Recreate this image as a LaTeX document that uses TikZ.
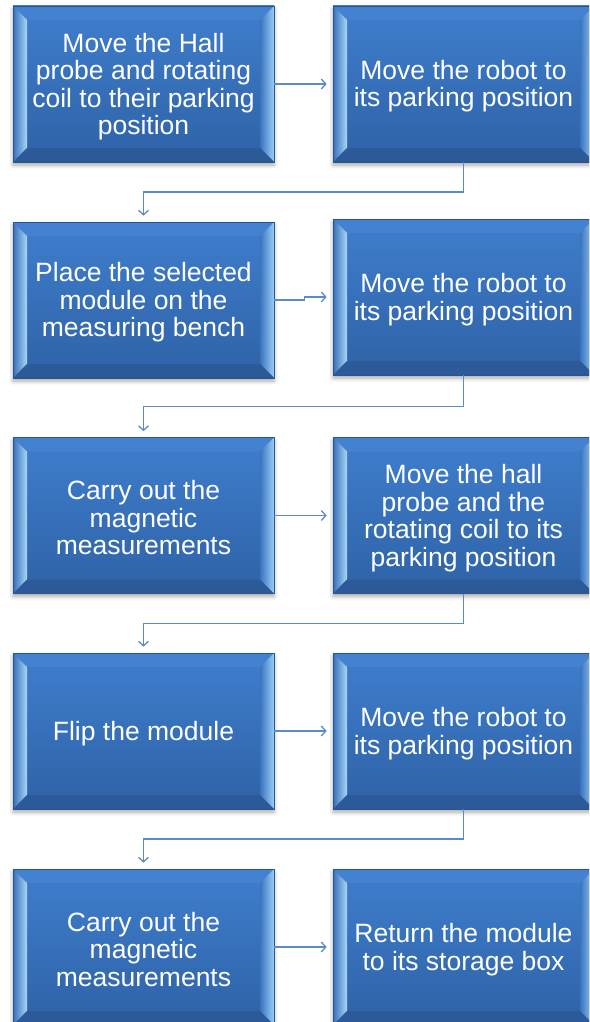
\documentclass[tikz,border=0pt]{standalone}
\usepackage{fontspec}
\setmainfont{Liberation Sans}
\usetikzlibrary{calc,arrows.meta,shadows.blur}
\definecolor{boxtop}{HTML}{3F7ECD}
\definecolor{boxbot}{HTML}{2E62A6}
\definecolor{facetop}{HTML}{4282D1}
\definecolor{facebot}{HTML}{2C5A99}
\definecolor{faceleftA}{HTML}{3670B8}
\definecolor{faceleftM}{HTML}{4D8AD3}
\definecolor{faceleftB}{HTML}{A8D7FA}
\definecolor{facerightA}{HTML}{3A74BF}
\definecolor{facerightM}{HTML}{5693D9}
\definecolor{facerightB}{HTML}{9ACEF7}
\definecolor{framec}{HTML}{2A5590}
\definecolor{linkc}{HTML}{5A8BC8}
\newcommand\tstrut{\rule{0pt}{24pt}}
\tikzset{
  bevelbox/.style={minimum width=261pt, minimum height=156pt, inner sep=0pt,
    align=center, text=white, font=\fontsize{26.5}{27.5}\selectfont,
    top color=boxtop, bottom color=boxbot, draw=framec, line width=0.7pt,
    blur shadow={shadow xshift=0pt, shadow yshift=-3pt, shadow blur radius=4pt, shadow opacity=35},
    path picture={
      \coordinate (pNW) at (path picture bounding box.north west);
      \coordinate (pNE) at (path picture bounding box.north east);
      \coordinate (pSW) at (path picture bounding box.south west);
      \coordinate (pSE) at (path picture bounding box.south east);
      \fill[facetop] (pNW) -- (pNE) -- ($(pNE)+(-14pt,-14pt)$) -- ($(pNW)+(14pt,-14pt)$) -- cycle;
      \shade[left color=faceleftA, middle color=faceleftM, right color=faceleftB]
        (pNW) -- ($(pNW)+(14pt,-14pt)$) -- ($(pSW)+(14pt,14pt)$) -- (pSW) -- cycle;
      \shade[left color=facerightA, middle color=facerightM, right color=facerightB]
        (pNE) -- (pSE) -- ($(pSE)+(-14pt,14pt)$) -- ($(pNE)+(-14pt,-14pt)$) -- cycle;
      \fill[facebot] (pSW) -- (pSE) -- ($(pSE)+(-14pt,14pt)$) -- ($(pSW)+(14pt,14pt)$) -- cycle;
    }},
  link/.style={draw=linkc, line width=1.3pt, -{Straight Barb[length=4.5pt,width=10pt]}, shorten >=6pt},
}
\begin{document}
\begin{tikzpicture}[x=1pt,y=1pt]
\path[use as bounding box] (0,0) rectangle (589,-1022);
\clip (0,0) rectangle (589,-1022);
\node[bevelbox] (a1) at (143.5,-84) {\tstrut Move the Hall\\probe and rotating\\coil to their parking\\position};
\node[bevelbox] (b1) at (463.5,-84) {\tstrut Move the robot to\\its parking position};
\node[bevelbox] (a2) at (143.5,-300) {\tstrut Place the selected\\module on the\\measuring bench};
\node[bevelbox] (b2) at (463.5,-297) {\tstrut Move the robot to\\its parking position};
\node[bevelbox] (a3) at (143.5,-515.5) {\tstrut Carry out the\\magnetic\\measurements};
\node[bevelbox] (b3) at (463.5,-515.5) {\tstrut Move the hall\\probe and the\\rotating coil to its\\parking position};
\node[bevelbox] (a4) at (143.5,-731) {\tstrut Flip the module};
\node[bevelbox] (b4) at (463.5,-731) {\tstrut Move the robot to\\its parking position};
\node[bevelbox] (a5) at (143.5,-947) {\tstrut Carry out the\\magnetic\\measurements};
\node[bevelbox] (b5) at (463.5,-947) {\tstrut Return the module\\to its storage box};
\draw[link] (a1.east) -- (b1.west);
\draw[link] (a2.east) -- ++(30,0) |- (b2.west);
\draw[link] (a3.east) -- (b3.west);
\draw[link] (a4.east) -- (b4.west);
\draw[link] (a5.east) -- (b5.west);
\draw[link] (b1.south) -- ($(b1.south)!.5!(b1.south |- a2.north)$) -| (a2.north);
\draw[link] (b2.south) -- ($(b2.south)!.5!(b2.south |- a3.north)$) -| (a3.north);
\draw[link] (b3.south) -- ($(b3.south)!.5!(b3.south |- a4.north)$) -| (a4.north);
\draw[link] (b4.south) -- ($(b4.south)!.5!(b4.south |- a5.north)$) -| (a5.north);
\end{tikzpicture}
\end{document}
